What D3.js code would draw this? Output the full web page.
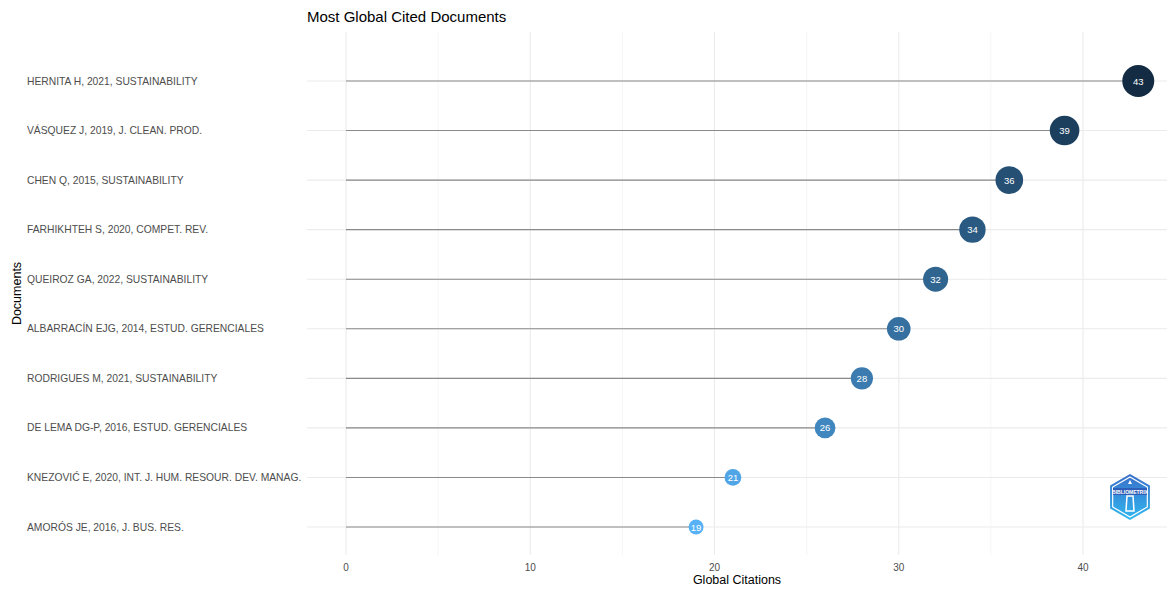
<!DOCTYPE html>
<html>
  <head>
    <meta charset="utf-8">
    <title>Most Global Cited Documents</title>
    <script src="https://d3js.org/d3.v7.min.js"></script>
    <style>
      body { margin: 0; background: #fff; }
      text { font-family: "Liberation Sans", Arial, sans-serif; }
    </style>
  </head>
  <body>
    <div class="chart"></div>
    <script>
      // documents, top to bottom
      var documents = [
        "HERNITA H, 2021, SUSTAINABILITY",
        "VÁSQUEZ J, 2019, J. CLEAN. PROD.",
        "CHEN Q, 2015, SUSTAINABILITY",
        "FARHIKHTEH S, 2020, COMPET. REV.",
        "QUEIROZ GA, 2022, SUSTAINABILITY",
        "ALBARRACÍN EJG, 2014, ESTUD. GERENCIALES",
        "RODRIGUES M, 2021, SUSTAINABILITY",
        "DE LEMA DG-P, 2016, ESTUD. GERENCIALES",
        "KNEZOVIĆ E, 2020, INT. J. HUM. RESOUR. DEV. MANAG.",
        "AMORÓS JE, 2016, J. BUS. RES."
      ];
      var citations = [43, 39, 36, 34, 32, 30, 28, 26, 21, 19];
      var xTicks = [0, 10, 20, 30, 40];
      var xMinor = [5, 15, 25, 35];

      var W = 1167, H = 589;
      var panel = {left: 307, right: 1167, top: 32, bottom: 555};

      var svg = d3.select("div.chart").append("svg")
        .attr("width", W)
        .attr("height", H);

      var x = d3.scaleLinear().domain([0, 40]).range([346, 1083]);
      var y = d3.scalePoint().domain(documents).range([81, 527]);
      var r = d3.scaleSqrt().domain([19, 43]).range([7.5, 16]);
      var col = d3.scaleLinear().domain([19, 43])
        .range(["#56B1F7", "#132B43"]).interpolate(d3.interpolateLab);

      // grid
      svg.selectAll("line.minor").data(xMinor).enter().append("line")
        .attr("x1", d => x(d)).attr("x2", d => x(d))
        .attr("y1", panel.top).attr("y2", panel.bottom)
        .attr("stroke", "#f2f2f2").attr("stroke-width", 0.8);
      svg.selectAll("line.major").data(xTicks).enter().append("line")
        .attr("x1", d => x(d)).attr("x2", d => x(d))
        .attr("y1", panel.top).attr("y2", panel.bottom)
        .attr("stroke", "#ebebeb").attr("stroke-width", 1.1);
      svg.selectAll("line.hgrid").data(documents).enter().append("line")
        .attr("x1", panel.left).attr("x2", panel.right)
        .attr("y1", d => y(d)).attr("y2", d => y(d))
        .attr("stroke", "#ebebeb").attr("stroke-width", 1.1);

      // segments
      svg.selectAll("line.seg").data(citations).enter().append("line")
        .attr("x1", x(0)).attr("x2", d => x(d))
        .attr("y1", (d, i) => y(documents[i])).attr("y2", (d, i) => y(documents[i]))
        .attr("stroke", "#8a8a8a").attr("stroke-width", 1.1);

      // points
      svg.selectAll("circle").data(citations).enter().append("circle")
        .attr("cx", d => x(d))
        .attr("cy", (d, i) => y(documents[i]))
        .attr("r", d => r(d))
        .attr("fill", d => col(d));
      svg.selectAll("text.val").data(citations).enter().append("text")
        .attr("x", d => x(d))
        .attr("y", (d, i) => y(documents[i]) + 3.5)
        .attr("text-anchor", "middle")
        .attr("font-size", 9.5)
        .attr("fill", "#fff")
        .text(d => d);

      // y labels
      svg.selectAll("text.ylab").data(documents).enter().append("text")
        .attr("x", 27)
        .attr("y", d => y(d) + 3.6)
        .attr("font-size", 10.3)
        .attr("fill", "#4d4d4d")
        .text(d => d);

      // x ticks
      svg.selectAll("text.xlab").data(xTicks).enter().append("text")
        .attr("x", d => x(d))
        .attr("y", 571)
        .attr("text-anchor", "middle")
        .attr("font-size", 10)
        .attr("fill", "#4d4d4d")
        .text(d => d);

      // titles
      svg.append("text").attr("x", 307).attr("y", 22)
        .attr("font-size", 15).attr("fill", "#000")
        .text("Most Global Cited Documents");
      svg.append("text").attr("x", (panel.left + panel.right) / 2).attr("y", 584)
        .attr("text-anchor", "middle").attr("font-size", 12.5).attr("fill", "#000")
        .text("Global Citations");
      svg.append("text")
        .attr("transform", "translate(21," + ((panel.top + panel.bottom) / 2) + ") rotate(-90)")
        .attr("text-anchor", "middle").attr("font-size", 12.5).attr("fill", "#000")
        .text("Documents");

      // bibliometrix logo (rough)
      var defs = svg.append("defs");
      var g = defs.append("linearGradient").attr("id", "lg")
        .attr("x1", 0).attr("y1", 0).attr("x2", 0).attr("y2", 1);
      g.append("stop").attr("offset", "0%").attr("stop-color", "#3a6fc9");
      g.append("stop").attr("offset", "100%").attr("stop-color", "#2fb8f0");
      var cx = 1130, cy = 497, R = 23;
      var hex = d3.range(6).map(k => {
        var a = Math.PI / 3 * k - Math.PI / 2;
        return [cx + R * Math.cos(a), cy + R * Math.sin(a)];
      });
      var hexIn = d3.range(6).map(k => {
        var a = Math.PI / 3 * k - Math.PI / 2;
        return [cx + (R - 3) * Math.cos(a), cy + (R - 3) * Math.sin(a)];
      });
      svg.append("polygon").attr("points", hex.join(" ")).attr("fill", "url(#lg)");
      svg.append("polygon").attr("points", hexIn.join(" ")).attr("fill", "none")
        .attr("stroke", "#fff").attr("stroke-width", 1.2);
      svg.append("rect").attr("x", cx - 17).attr("y", cy - 9).attr("width", 34).attr("height", 7)
        .attr("fill", "#2f5fb8");
      svg.append("text").attr("x", cx).attr("y", cy - 3.5).attr("text-anchor", "middle")
        .attr("font-size", 5).attr("font-weight", "bold").attr("fill", "#fff")
        .text("BIBLIOMETRIX");
      svg.append("path")
        .attr("d", "M" + (cx - 4) + "," + (cy + 14) + " L" + (cx - 3) + "," + (cy - 1) +
          " L" + (cx + 3) + "," + (cy - 1) + " L" + (cx + 4) + "," + (cy + 14) + " Z")
        .attr("fill", "none").attr("stroke", "#fff").attr("stroke-width", 1.5);
      svg.append("path")
        .attr("d", "M" + (cx - 2) + "," + (cy - 13) + " L" + (cx + 2) + "," + (cy - 13) + " L" + cx + "," + (cy - 17) + " Z")
        .attr("fill", "#fff");
    </script>
  </body>
</html>
